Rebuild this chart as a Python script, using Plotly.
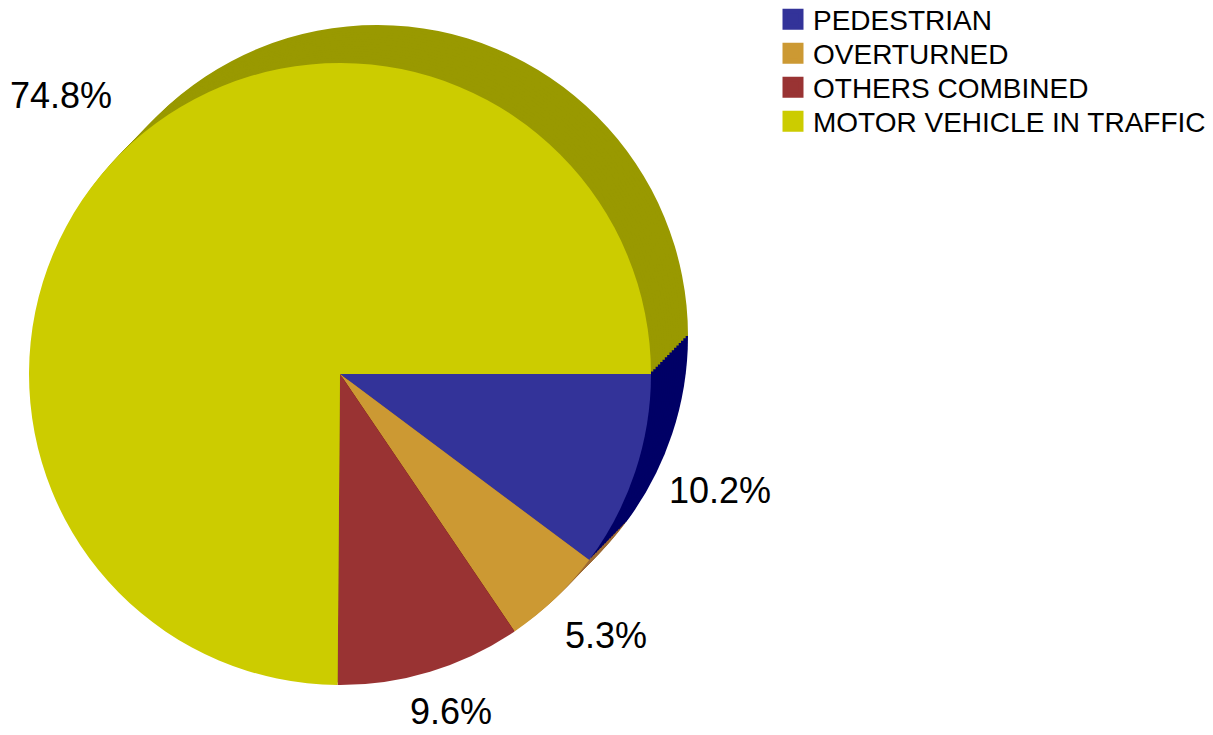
import math
import plotly.graph_objects as go

# ---- data ----
labels = ["PEDESTRIAN", "OVERTURNED", "OTHERS COMBINED", "MOTOR VEHICLE IN TRAFFIC"]
values = [10.2, 5.3, 9.6, 74.8]
pct_text = ["10.2%", "5.3%", "9.6%", "74.8%"]

# ---- styles ----
face_colors = ["#333399", "#CC9933", "#993333", "#CCCC00"]
side_colors = ["#000066", "#9E6B35", "#660000", "#999900"]

OFF = 8                          # page body margin (px)
W, H = 1213 - OFF, 735 - OFF     # figure size
CX, CY, R = 340 - OFF, 374 - OFF, 311   # front face centre / radius (px)
DX, DY = 37, -38                 # extrusion offset (px)
N_LAYERS = 16
LABEL_R = 372
LABEL_ANG = 4.0                  # degrees
LABEL_FS = 36
LEGEND_FS = 28
FONT = "Liberation Sans, Arial, sans-serif"


def dom(cx, cy, r):
    return dict(x=[(cx - r) / W, (cx + r) / W],
                y=[1 - (cy + r) / H, 1 - (cy - r) / H])


fig = go.Figure()

# extruded side (stack of darker pies, back to front)
for k in range(N_LAYERS, 0, -1):
    f = k / N_LAYERS
    fig.add_trace(go.Pie(
        labels=labels, values=values, sort=False, direction="clockwise",
        rotation=90, domain=dom(CX + DX * f, CY + DY * f, R),
        marker=dict(colors=side_colors, line=dict(width=0)),
        textinfo="none", hoverinfo="skip", showlegend=False,
    ))

# front face
fig.add_trace(go.Pie(
    labels=labels, values=values, sort=False, direction="clockwise",
    rotation=90, domain=dom(CX, CY, R),
    marker=dict(colors=face_colors, line=dict(width=0)),
    textinfo="none", showlegend=False,
))

# legend entries (one legend per row to control spacing)
ROW0, ROW_STEP = 19.5 - OFF, 34.0
legend_layout = {}
for i, (lab, col) in enumerate(zip(labels, face_colors)):
    key = "legend" if i == 0 else f"legend{i + 1}"
    fig.add_trace(go.Scatter(
        x=[None], y=[None], mode="markers", name=lab,
        marker=dict(symbol="square", size=16, color=col,
                    line=dict(width=5, color=col)),
        legend=key, showlegend=True, hoverinfo="skip",
    ))
    legend_layout[key] = dict(
        x=(813 - OFF - 40) / W, y=1 - (ROW0 + i * ROW_STEP) / H,
        xanchor="left", yanchor="middle",
        font=dict(size=LEGEND_FS, color="#000000", family=FONT),
        bgcolor="rgba(0,0,0,0)", borderwidth=0,
        itemclick=False, itemdoubleclick=False,
    )


def text_w(s, fs):
    return fs * sum(0.889 if ch == "%" else 0.278 if ch == "." else 0.556 for ch in s)


# percentage labels placed around the pie from the slice mid-angles
total = sum(values)
cum = 0.0
annotations = []
for v, t in zip(values, pct_text):
    mid = (cum + v / 2) / total * 2 * math.pi + math.radians(LABEL_ANG)
    cum += v
    c, s = math.cos(mid), math.sin(mid)
    hw = text_w(t, LABEL_FS) / 2
    x = CX + LABEL_R * c + math.copysign(0.7 * hw, c)
    y = CY + LABEL_R * s - math.copysign(14, s) - 11
    annotations.append(dict(
        x=x / W, y=1 - y / H, xref="paper", yref="paper", text=t,
        showarrow=False, xanchor="center", yanchor="middle",
        font=dict(size=LABEL_FS, color="#000000", family=FONT),
    ))

fig.update_layout(
    width=W, height=H, autosize=False,
    margin=dict(l=0, r=0, t=0, b=0, pad=0, autoexpand=False),
    paper_bgcolor="white", plot_bgcolor="white",
    xaxis=dict(visible=False), yaxis=dict(visible=False),
    annotations=annotations,
    font=dict(family=FONT),
    **legend_layout,
)

fig.write_html("out.html")
